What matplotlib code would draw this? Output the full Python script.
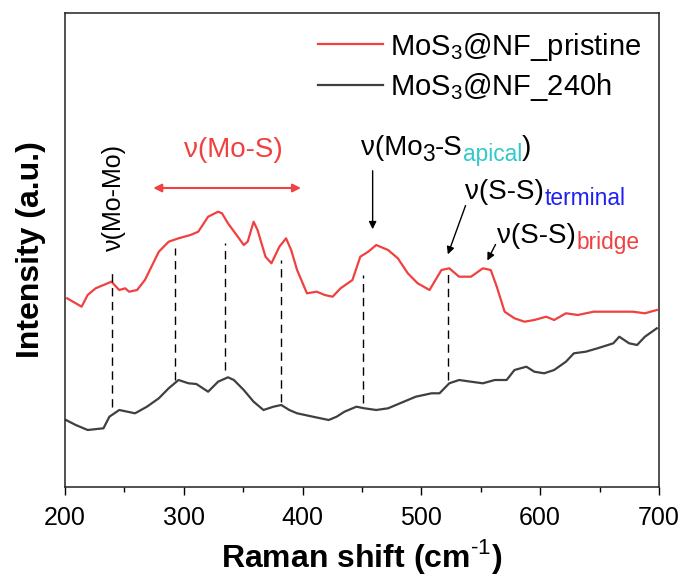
import numpy as np
import matplotlib
matplotlib.use("Agg")
import matplotlib.pyplot as plt
from matplotlib.ticker import MultipleLocator, NullLocator

plt.rcParams['font.family'] = ['Liberation Sans', 'DejaVu Sans']
plt.rcParams['mathtext.fontset'] = 'custom'
plt.rcParams['mathtext.rm'] = 'Liberation Sans'
plt.rcParams['mathtext.bf'] = 'Liberation Sans:bold'

# Raman spectrum of the pristine sample (shift in cm-1, intensity in a.u.)
shift_pristine = [201.8, 209.1, 214.0, 219.1, 225.8, 239.1, 245.7, 250.7, 254.0, 260.7,
                  267.3, 279.0, 287.3, 295.6, 305.6, 312.2, 320.5, 328.9, 332.2, 337.2,
                  345.5, 350.5, 353.8, 358.8, 362.1, 368.8, 373.8, 380.5, 386.1, 390.4,
                  395.4, 403.7, 412.0, 418.7, 425.3, 432.0, 442.0, 448.6, 455.3, 462.0,
                  472.0, 480.2, 488.6, 496.9, 506.9, 511.9, 516.9, 523.5, 531.8, 541.8,
                  551.8, 558.4, 563.5, 570.1, 578.4, 586.8, 595.1, 605.1, 611.8, 621.7,
                  631.7, 645.0, 661.6, 678.2, 688.2, 698.2]
int_pristine = [188.7, 183.7, 180.3, 192.0, 198.7, 205.3, 197.0, 198.7, 195.3, 197.0,
                207.0, 235.3, 245.3, 248.7, 252.0, 255.3, 270.3, 275.3, 273.7, 263.7,
                250.3, 242.0, 245.3, 265.3, 257.0, 230.3, 223.7, 240.3, 248.7, 237.0,
                217.0, 193.7, 195.3, 192.0, 190.3, 198.7, 207.0, 230.3, 235.3, 242.0,
                237.0, 228.7, 213.7, 203.7, 197.0, 207.0, 217.0, 218.7, 210.3, 210.3,
                218.7, 217.0, 200.3, 175.3, 168.7, 165.3, 167.0, 170.3, 167.0, 173.7,
                172.0, 175.3, 175.3, 175.3, 173.7, 177.0]

# Raman spectrum after 240 h
shift_240h = [200.8, 209.1, 219.1, 232.4, 237.4, 245.7, 259.0, 269.0, 279.0, 287.3,
              295.6, 304.0, 310.6, 320.5, 328.9, 337.2, 342.2, 350.5, 358.8, 367.1,
              375.5, 382.1, 388.8, 395.4, 408.7, 422.0, 428.7, 435.3, 445.3, 452.0,
              462.0, 472.0, 482.0, 495.3, 508.6, 515.3, 523.5, 531.8, 541.8, 551.8,
              561.8, 571.8, 578.4, 588.4, 595.1, 603.4, 611.8, 621.7, 628.4, 638.4,
              648.3, 661.6, 666.6, 674.9, 681.6, 688.2, 698.2]
int_240h = [67.0, 62.0, 57.0, 58.7, 70.3, 77.0, 73.7, 80.3, 88.7, 98.7,
            107.0, 103.7, 103.0, 95.3, 105.3, 109.7, 107.0, 97.0, 85.3, 77.0,
            80.3, 82.0, 77.0, 73.7, 70.3, 67.0, 70.3, 75.3, 80.3, 78.7,
            77.0, 78.7, 83.7, 90.3, 93.7, 93.7, 103.7, 107.0, 105.3, 103.7,
            107.0, 107.0, 117.0, 120.3, 115.3, 113.7, 117.0, 125.3, 133.7, 135.3,
            138.7, 143.7, 150.3, 143.7, 142.0, 150.3, 158.7]

# band positions marked with dashed guides, and their top/bottom ends
band_pos = [240, 293, 335, 382, 451, 522.5]
band_top = [217, 239, 244, 227, 212, 215]
band_bottom = [80, 107, 117, 85, 84, 107]

red = '#f04040'
grey = '#404040'

fig = plt.figure(figsize=(6.81, 5.81), dpi=100)
ax = fig.add_axes([0.0954, 0.1618, 0.8722, 0.8158])

ax.plot(shift_pristine, int_pristine, color=red, lw=1.6, label=r'MoS$_\mathregular{3}$@NF_pristine')
ax.plot(shift_240h, int_240h, color=grey, lw=1.6, label=r'MoS$_\mathregular{3}$@NF_240h')

for xb, yt, yb in zip(band_pos, band_top, band_bottom):
    ax.plot([xb, xb], [yb, yt], color='black', lw=1.0, ls=(0, (6, 4)))

ax.set_xlim(200, 700)
ax.set_ylim(0, 474)
ax.xaxis.set_major_locator(MultipleLocator(100))
ax.xaxis.set_minor_locator(MultipleLocator(50))
ax.yaxis.set_major_locator(NullLocator())
ax.tick_params(axis='x', which='major', direction='out', length=6, width=1, labelsize=18, pad=8)
ax.tick_params(axis='x', which='minor', direction='out', length=3.5, width=1)
for sp in ax.spines.values():
    sp.set_linewidth(1.1)
    sp.set_color('#222222')

ax.set_xlabel(r'Raman shift (cm$^{\mathbf{\text{-1}}}$)', fontsize=23, fontweight='bold', labelpad=5)
ax.set_ylabel('Intensity (a.u.)', fontsize=23, fontweight='bold', labelpad=14)

ax.legend(loc='upper right', bbox_to_anchor=(1.0, 1.0), frameon=False, fontsize=21,
          handlelength=2.2, handletextpad=0.25, labelspacing=0.3, borderaxespad=0.2)


def rich_label(x, y, parts, size=20):
    # place text pieces one after another, subscripts smaller and lowered
    renderer = fig.canvas.get_renderer()
    dx = 0.0
    for s, color, sub in parts:
        fs = size * 0.82 if sub else size
        dy = -size * 0.22 if sub else 0
        t = ax.annotate(s, xy=(x, y), xytext=(dx, dy), textcoords='offset points',
                        fontsize=fs, color=color, ha='left', va='baseline')
        dx += t.get_window_extent(renderer).width * 72 / fig.dpi


ax.text(241, 290, 'ν(Mo-Mo)', rotation=90, fontsize=18, ha='center', va='center')
ax.text(342, 337, 'ν(Mo-S)', color=red, fontsize=20, ha='center', va='center')
ax.annotate('', xy=(272, 299), xytext=(401, 299),
            arrowprops=dict(arrowstyle='<|-|>', color=red, lw=1.5, mutation_scale=12))

rich_label(449, 332, [('ν(Mo', 'black', False), ('3', 'black', True), ('-S', 'black', False),
                      ('apical', '#30c8c8', True), (')', 'black', False)])
rich_label(537, 288, [('ν(S-S)', 'black', False), ('terminal', '#2020f0', True)])
rich_label(564, 244, [('ν(S-S)', 'black', False), ('bridge', red, True)])

arrow_kw = dict(arrowstyle='-|>', color='black', lw=1.0, mutation_scale=11)
ax.annotate('', xy=(459, 255), xytext=(459, 319), arrowprops=arrow_kw)
ax.annotate('', xy=(521.5, 230), xytext=(538, 284), arrowprops=arrow_kw)
ax.annotate('', xy=(554.5, 224), xytext=(563.5, 245), arrowprops=arrow_kw)

fig.savefig('out.png', dpi=100)
